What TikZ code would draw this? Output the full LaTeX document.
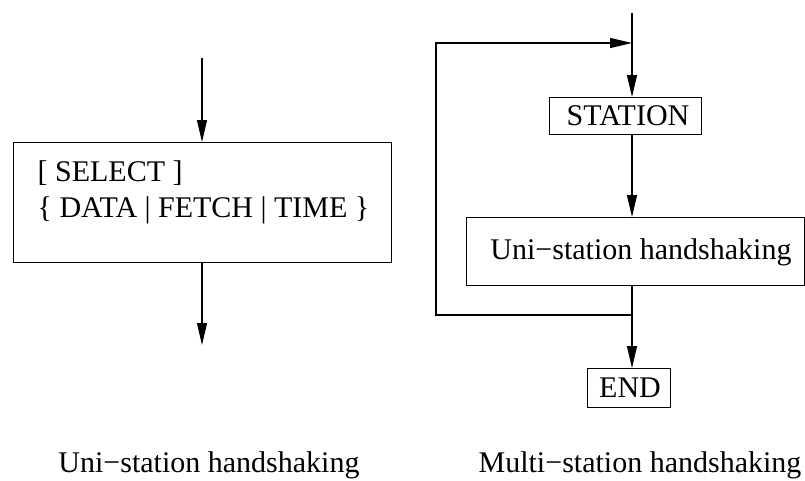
\documentclass[tikz,border=0pt]{standalone}
\usepackage{fontspec}
\setmainfont{Liberation Serif}
\usetikzlibrary{arrows.meta}
\begin{document}
\begin{tikzpicture}[x=1pt,y=-1pt,
  line width=1.3pt,
  every node/.style={font=\fontsize{30}{36}\selectfont},
  tip/.style={-{Triangle[length=22pt,width=10pt]}},
  boxnode/.style={draw,inner sep=0pt,anchor=north west}]
\useasboundingbox (0,0) rectangle (805,480);
% left diagram
\node[boxnode,minimum width=378pt,minimum height=120pt] (sel) at (13,142) {};
\node[anchor=west,align=left,inner sep=0pt] (seltxt) at (37,192) {[ SELECT ]\\\{ DATA | FETCH | TIME \}};
\coordinate (lin) at (202,58);
\coordinate (lout) at (202,345);
\draw[tip] (lin) -- (sel.north -| lin);
\draw[tip] (sel.south -| lout) -- (lout);
% right diagram
\coordinate (rtop) at (632,13);
\node[boxnode,minimum width=152pt,minimum height=37pt] (st) at (549,97) {};
\node (sttxt) at (628,116) {STATION};
\node[boxnode,minimum width=338pt,minimum height=68pt] (uni) at (466,217) {};
\node (unitxt) at (641,252) {Uni−station handshaking};
\node[boxnode,minimum width=83pt,minimum height=39pt] (end) at (587,368) {};
\node (endtxt) at (630,388) {END};
\coordinate (j) at (632,315);
\coordinate (fb) at (632,43);
\coordinate (lft) at (436,0);
\draw[tip] (rtop) -- (st.north -| rtop);
\draw[tip] (st.south -| rtop) -- (uni.north -| rtop);
\draw (uni.south -| rtop) -- (j);
\draw[tip] (j) -- (end.north -| j);
\draw[tip] (j) -- (j -| lft) -- (fb -| lft) -- (fb);
% captions
\node (cap1) at (209,465) {Uni−station handshaking};
\node (cap2) at (640,465) {Multi−station handshaking};
\end{tikzpicture}
\end{document}
